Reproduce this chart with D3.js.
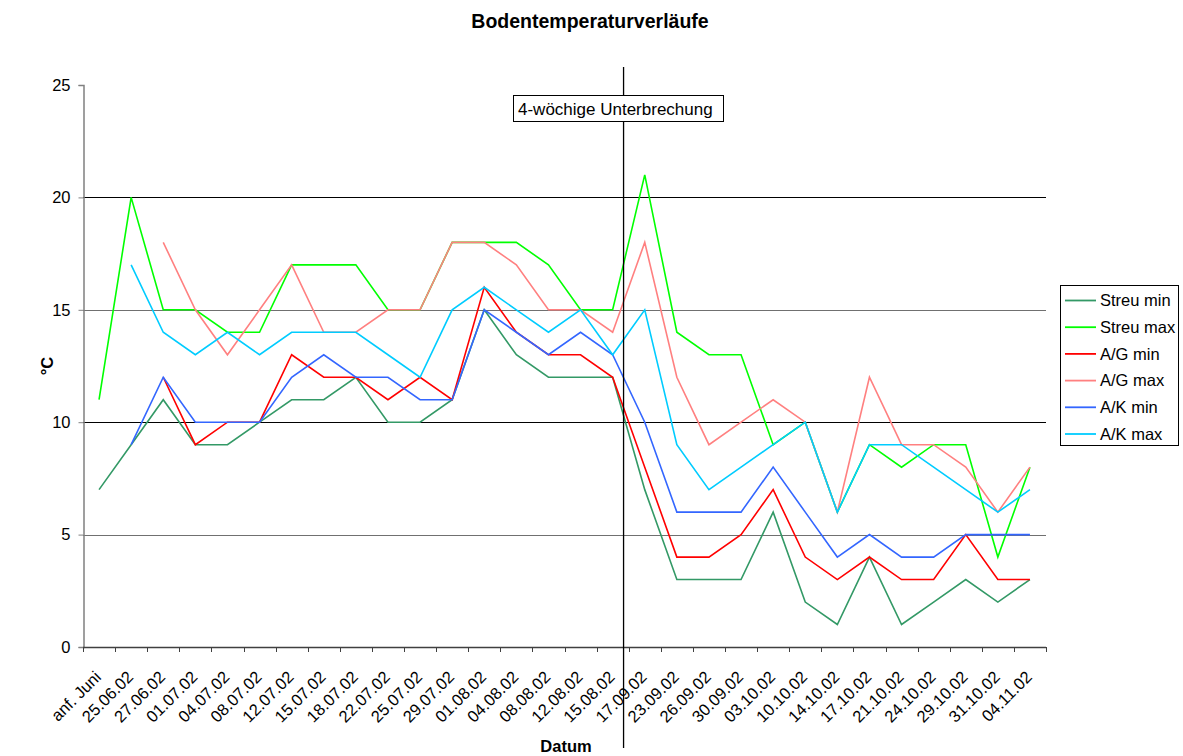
<!DOCTYPE html>
<html>
<head>
<meta charset="utf-8">
<script src="https://cdn.jsdelivr.net/npm/d3@7"></script>
<style>
  body { margin: 0; background: #fff; }
  svg { font-family: "Liberation Sans", Arial, sans-serif; }
  .line { fill: none; stroke-width: 1.6; }
</style>
</head>
<body>
<div id="chart"></div>
<script>
'use strict';

const dates = ['anf. Juni', '25.06.02', '27.06.02', '01.07.02', '04.07.02', '08.07.02', '12.07.02',
    '15.07.02', '18.07.02', '22.07.02', '25.07.02', '29.07.02', '01.08.02', '04.08.02', '08.08.02',
    '12.08.02', '15.08.02', '17.09.02', '23.09.02', '26.09.02', '30.09.02', '03.10.02', '10.10.02',
    '14.10.02', '17.10.02', '21.10.02', '24.10.02', '29.10.02', '31.10.02', '04.11.02'];

const streuMin = [7, 9, 11, 9, 9, 10, 11, 11, 12, 10, 10, 11, 15, 13, 12, 12, 12, 7, 3, 3, 3, 6, 2, 1, 4, 1, 2, 3, 2, 3];
const streuMax = [11, 20, 15, 15, 14, 14, 17, 17, 17, 15, 15, 18, 18, 18, 17, 15, 15, 21, 14, 13, 13, 9, 10, 6, 9, 8, 9, 9, 4, 8];
const agMin = [null, null, 12, 9, 10, 10, 13, 12, 12, 11, 12, 11, 16, 14, 13, 13, 12, 8, 4, 4, 5, 7, 4, 3, 4, 3, 3, 5, 3, 3];
const agMax = [null, null, 18, 15, 13, 15, 17, 14, 14, 15, 15, 18, 18, 17, 15, 15, 14, 18, 12, 9, 10, 11, 10, 6, 12, 9, 9, 8, 6, 8];
const akMin = [null, 9, 12, 10, 10, 10, 12, 13, 12, 12, 11, 11, 15, 14, 13, 14, 13, 10, 6, 6, 6, 8, 6, 4, 5, 4, 4, 5, 5, 5];
const akMax = [null, 17, 14, 13, 14, 13, 14, 14, 14, 13, 12, 15, 16, 15, 14, 15, 13, 15, 9, 7, 8, 9, 10, 6, 9, 9, 8, 7, 6, 7];

const seriesNames = ['Streu min', 'Streu max', 'A/G min', 'A/G max', 'A/K min', 'A/K max'];
const seriesValues = [streuMin, streuMax, agMin, agMax, akMin, akMax];
const colors = ['#339966', '#00FF00', '#FF0000', '#FF8080', '#3366FF', '#00CCFF'];
const yTicks = [0, 5, 10, 15, 20, 25];

const W = 1183, H = 756;
const plot = { left: 83, right: 1046, top: 85, bottom: 647 };

const svg = d3.select('#chart').append('svg').attr('width', W).attr('height', H);

const x = d3.scaleBand().domain(dates).range([plot.left, plot.right]);
const cx = d => x(d) + x.bandwidth() / 2;
const y = d3.scaleLinear().domain([0, 25]).range([plot.bottom, plot.top]);

// gridlines (none at the top edge)
svg.append('g').selectAll('line').data(yTicks.filter(t => t > 0 && t < 25)).enter().append('line')
   .attr('x1', plot.left).attr('x2', plot.right)
   .attr('y1', d => Math.round(y(d)) + 0.5).attr('y2', d => Math.round(y(d)) + 0.5)
   .attr('stroke', d => d % 10 === 0 ? '#000' : '#707070').attr('stroke-width', 1);

// y axis
const yAxis = d3.axisLeft(y).tickValues(yTicks).tickSize(5).tickPadding(8);
const gy = svg.append('g').attr('transform', `translate(${plot.left + 0.5},0)`).call(yAxis);
gy.select('.domain').attr('stroke', '#808080').attr('stroke-width', 1.5);
gy.selectAll('.tick line').attr('stroke', '#808080');
gy.selectAll('.tick text').attr('font-size', 16.5).attr('fill', '#000')
  .attr('font-family', '"Liberation Sans", Arial, sans-serif');

// x axis line and boundary ticks
svg.append('line').attr('x1', plot.left).attr('x2', plot.right)
   .attr('y1', plot.bottom + 0.5).attr('y2', plot.bottom + 0.5)
   .attr('stroke', '#404040').attr('stroke-width', 1.5);
const bounds = dates.map(d => x(d)).concat([plot.right]);
svg.append('g').selectAll('line').data(bounds).enter().append('line')
   .attr('x1', d => Math.round(d) + 0.5).attr('x2', d => Math.round(d) + 0.5)
   .attr('y1', plot.bottom).attr('y2', plot.bottom + 5)
   .attr('stroke', '#404040').attr('stroke-width', 1);

// x tick labels
svg.append('g').selectAll('text').data(dates).enter().append('text')
   .attr('transform', d => `translate(${cx(d) - 1},${plot.bottom + 27}) rotate(-45)`)
   .attr('text-anchor', 'end').attr('dy', '0.35em')
   .attr('font-size', 16.5).text(d => d);

// lines
const line = d3.line()
    .defined(d => d != null)
    .x((d, i) => cx(dates[i]))
    .y(d => y(d));
seriesValues.forEach((vals, k) => {
    svg.append('path').attr('class', 'line')
       .attr('stroke', colors[k])
       .attr('d', line(vals));
});

// break annotation
const breakX = cx('15.08.02') + x.step() * 0.34;
svg.append('line').attr('x1', breakX).attr('x2', breakX).attr('y1', 67).attr('y2', 748)
   .attr('stroke', '#000').attr('stroke-width', 1.3);
svg.append('rect').attr('x', 513.5).attr('y', 95.5).attr('width', 210).attr('height', 26)
   .attr('fill', '#fff').attr('stroke', '#000').attr('stroke-width', 1);
svg.append('text').attr('x', 518).attr('y', 114.5).attr('font-size', 17)
   .text('4-wöchige Unterbrechung');

// titles
svg.append('text').attr('x', 590).attr('y', 28).attr('text-anchor', 'middle')
   .attr('font-size', 19.5).attr('font-weight', 'bold').text('Bodentemperaturverläufe');
svg.append('text').attr('x', 566).attr('y', 752).attr('text-anchor', 'middle')
   .attr('font-size', 16.5).attr('font-weight', 'bold').text('Datum');
svg.append('text').attr('transform', 'translate(53,366) rotate(-90)').attr('text-anchor', 'middle')
   .attr('font-size', 16.5).attr('font-weight', 'bold').text('°C');

// legend
const leg = svg.append('g');
leg.append('rect').attr('x', 1060.5).attr('y', 285.5).attr('width', 118).attr('height', 160)
   .attr('fill', '#fff').attr('stroke', '#000').attr('stroke-width', 1);
seriesNames.forEach((name, k) => {
    const ly = 300.5 + k * 26.7;
    leg.append('line').attr('x1', 1065).attr('x2', 1096).attr('y1', ly).attr('y2', ly)
       .attr('stroke', colors[k]).attr('stroke-width', 1.8);
    leg.append('text').attr('x', 1100).attr('y', ly).attr('dy', '0.35em')
       .attr('font-size', 16.5).text(name);
});
</script>
</body>
</html>
